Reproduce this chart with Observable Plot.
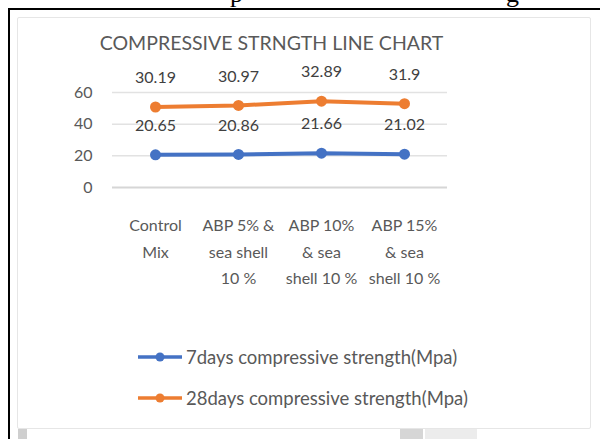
<!DOCTYPE html>
<html><head><meta charset="utf-8">
<script src="https://cdn.jsdelivr.net/npm/d3@7"></script>
<script src="https://cdn.jsdelivr.net/npm/@observablehq/plot@0.6"></script>
<style>
html,body{margin:0;padding:0;background:#fff;}
body{width:600px;height:439px;overflow:hidden;position:relative;font-family:Lato,"Open Sans",sans-serif;}
#doctext{position:absolute;left:0;top:0;width:600px;height:8px;overflow:hidden;font-family:"Liberation Serif",serif;font-size:26px;color:#000;}
#doctext span{position:absolute;top:-21px;}
#outer{position:absolute;left:8px;top:8px;width:620px;height:460px;border-left:2px solid #000;border-top:2px solid #000;}
#box{position:absolute;left:17px;top:17px;width:572px;height:410px;border:1px solid #e6e6e6;border-radius:2px;background:#fff;}
#title{position:absolute;left:0;top:31px;width:543px;text-align:center;font-size:19.5px;color:#595959;white-space:nowrap;}
#chart{position:absolute;left:0;top:0;}
.leg{position:absolute;left:136px;height:24px;display:flex;align-items:center;font-size:18.5px;color:#595959;white-space:nowrap;}
.leg svg{margin-right:2px;}
.blk{position:absolute;top:429px;height:10px;background:#d4d4d4;}
</style></head><body>
<div id="doctext"><span style="left:230px">p</span><span style="left:506px">g</span></div>
<div id="outer"></div>
<div id="box"></div>
<div class="blk" style="left:18px;width:9px;background:#cfcfcf"></div>
<div class="blk" style="left:400px;width:23px;background:#d6d6d6"></div>
<div class="blk" style="left:425px;width:52px;background:#ececec"></div>
<div id="title">COMPRESSIVE STRNGTH LINE CHART</div>
<div id="chart"></div>
<div id="legend"></div>
<script>
const categories = ["Control Mix", "ABP 5% & sea shell 10 %", "ABP 10% & sea shell 10 %", "ABP 15% & sea shell 10 %"];
const tickLabels = ["Control\nMix", "ABP 5% &\nsea shell\n10 %", "ABP 10%\n& sea\nshell 10 %", "ABP 15%\n& sea\nshell 10 %"];
const seriesNames = ["7days compressive strength(Mpa)", "28days compressive strength(Mpa)"];
const days7 = [20.65, 20.86, 21.66, 21.02];
const days28 = [30.19, 30.97, 32.89, 31.9];
const yTicks = [0, 20, 40, 60];
const colors = ["#4472C4", "#ED7D31"];

// stacked line table (28-day series stacked on 7-day series)
const table = [];
categories.forEach((c, i) => {
  table.push({cat: c, series: seriesNames[0], value: days7[i], top: days7[i]});
});
categories.forEach((c, i) => {
  table.push({cat: c, series: seriesNames[1], value: days28[i], top: days7[i] + days28[i]});
});

const chart = Plot.plot({
  width: 600, height: 300,
  marginLeft: 112, marginRight: 153, marginTop: 92, marginBottom: 113,
  x: {type: "point", domain: categories, padding: 0.5, axis: null},
  y: {domain: [0, 60], axis: null},
  color: {domain: seriesNames, range: colors},
  style: {fontFamily: "Lato, sans-serif", background: "transparent", overflow: "visible"},
  marks: [
    Plot.ruleY(yTicks.filter(d => d !== 0), {stroke: "#e2e2e2", strokeWidth: 1.5}),
    Plot.ruleY(yTicks.filter(d => d === 0), {stroke: "#d6d6d6", strokeWidth: 2}),
    Plot.axisY(yTicks, {tickSize: 0, tickPadding: 20, fontSize: 16, color: "#595959", label: null}),
    Plot.axisX(categories, {tickSize: 0, tickPadding: 25, fontSize: 16, color: "#595959", lineHeight: 1.65, label: null,
      tickFormat: d => tickLabels[categories.indexOf(d)]}),
    Plot.line(table, {x: "cat", y: "top", z: "series", stroke: "series", strokeWidth: 4}),
    Plot.dot(table, {x: "cat", y: "top", fill: "series", r: 5.5}),
    Plot.text(table, {x: "cat", y: "top", text: d => String(d.value), dy: -29, fontSize: 16, fill: "#404040"})
  ]
});
document.getElementById("chart").appendChild(chart);

const legend = document.getElementById("legend");
seriesNames.forEach((name, i) => {
  const row = document.createElement("div");
  row.className = "leg";
  row.style.top = (345 + i * 41) + "px";
  row.innerHTML = `<svg width="48" height="12"><line x1="2" y1="6" x2="46" y2="6" stroke="${colors[i]}" stroke-width="3.5"/><circle cx="24" cy="6" r="4.5" fill="${colors[i]}"/></svg>`;
  const t = document.createElement("span");
  t.textContent = name;
  row.appendChild(t);
  legend.appendChild(row);
});
</script>
</body></html>
